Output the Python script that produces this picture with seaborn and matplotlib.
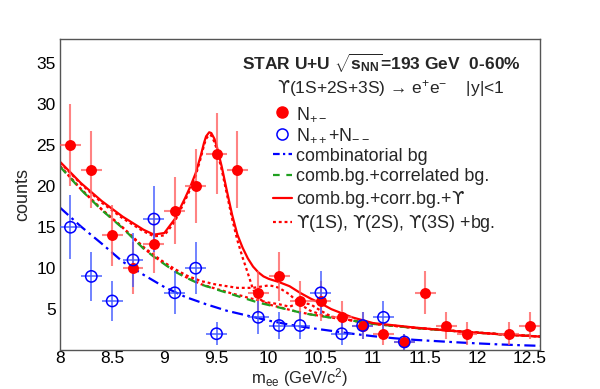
import numpy as np
import pandas as pd
import seaborn as sns
import matplotlib
matplotlib.use("Agg")
import matplotlib.pyplot as plt
from matplotlib.lines import Line2D
from matplotlib.ticker import MultipleLocator

# ---------------- data ----------------
x_pm = [8.1, 8.3, 8.5, 8.7, 8.9, 9.1, 9.3, 9.5, 9.7, 9.9, 10.1, 10.3, 10.5,
        10.7, 10.9, 11.1, 11.3, 11.5, 11.7, 11.9, 12.3, 12.5]
n_pm = [25, 22, 14, 10, 13, 17, 20, 24, 22, 7, 9, 6, 6, 4, 3, 2, 1, 7, 3, 2, 2, 3]
err_pm = [5.0, 4.7, 3.7, 3.2, 3.6, 4.1, 4.5, 4.9, 4.7, 2.6, 3.0, 2.4, 2.4, 2.0,
          1.7, 1.4, 1.0, 2.6, 1.7, 1.4, 1.4, 1.7]

x_ls = [8.1, 8.3, 8.5, 8.7, 8.9, 9.1, 9.3, 9.5, 9.9, 10.1, 10.3, 10.5, 10.7,
        10.9, 11.1, 11.3]
n_ls = [15, 9, 6, 11, 16, 7, 10, 2, 4, 3, 3, 7, 2, 3, 4, 1]
err_ls = [3.9, 3.0, 2.4, 3.3, 4.0, 2.6, 3.2, 1.4, 2.0, 1.7, 1.7, 2.6, 1.4, 1.7,
          2.0, 1.0]
bin_half = [0.1] * len(x_pm)
bin_half_ls = [0.1] * len(x_ls)

# combinatorial background curve
x_comb = [8.0, 8.2, 8.4, 8.6, 8.8, 9.0, 9.2, 9.4, 9.6, 9.8, 10.0, 10.2, 10.4,
          10.6, 10.8, 11.0, 11.2, 11.4, 11.6, 11.8, 12.0, 12.2, 12.4, 12.6]
y_comb = [17.4, 15.1, 13.0, 10.8, 9.2, 7.7, 6.5, 5.6, 4.8, 4.2, 3.6, 3.1, 2.7,
          2.35, 2.0, 1.7, 1.45, 1.25, 1.1, 0.95, 0.82, 0.7, 0.6, 0.52]

# common grid for the other curves
x_fit = [8.0, 8.2, 8.4, 8.6, 8.8, 8.9, 9.0, 9.1, 9.2, 9.25, 9.3, 9.35, 9.38,
         9.4, 9.43, 9.45, 9.48, 9.5, 9.55, 9.6, 9.65, 9.7, 9.75, 9.8, 9.85,
         9.9, 9.95, 10.0, 10.05, 10.1, 10.2, 10.3, 10.4, 10.5, 10.6, 10.8,
         11.0, 11.4, 11.8, 12.2, 12.6]
y_corr = [22.4, 19.6, 17.1, 14.9, 12.4, 11.4, 10.5, 9.6, 8.9, 8.6, 8.3, 8.0,
          7.9, 7.8, 7.7, 7.6, 7.5, 7.4, 7.2, 7.0, 6.8, 6.6, 6.4, 6.2, 6.0,
          5.8, 5.65, 5.5, 5.35, 5.2, 4.9, 4.6, 4.35, 4.15, 3.95, 3.6, 3.2,
          2.7, 2.3, 1.95, 1.65]
y_total = [23.0, 20.4, 18.2, 16.3, 14.7, 14.1, 14.3, 16.0, 18.6, 20.0, 21.6,
           23.8, 25.3, 26.1, 26.6, 26.5, 25.8, 25.0, 22.4, 19.4, 16.5, 14.1,
           12.5, 11.2, 10.2, 9.5, 9.0, 8.7, 8.5, 8.3, 7.8, 7.0, 6.3, 5.7, 5.0,
           4.0, 3.3, 2.75, 2.3, 1.95, 1.65]
y_1s = [22.9, 20.3, 18.0, 16.1, 14.5, 13.9, 14.0, 15.7, 18.3, 19.7, 21.3,
        23.5, 25.0, 25.8, 26.3, 26.2, 25.4, 24.6, 22.0, 19.0, 16.0, 13.4,
        11.3, 9.4, 7.4, 6.4, 5.9, 5.6, 5.4, 5.25, 4.92, 4.62, 4.37, 4.17,
        3.97, 3.61, 3.21, 2.71, 2.31, 1.96, 1.66]
y_2s = [22.5, 19.7, 17.2, 15.0, 12.6, 11.6, 10.7, 9.9, 9.2, 8.9, 8.7, 8.4,
        8.35, 8.3, 8.2, 8.1, 8.05, 8.0, 7.9, 7.8, 7.7, 7.6, 7.6, 7.6, 7.6,
        7.7, 7.8, 7.9, 7.8, 7.6, 6.8, 5.6, 4.8, 4.35, 4.05, 3.62, 3.22, 2.72,
        2.32, 1.96, 1.66]
y_3s = [22.45, 19.65, 17.15, 14.95, 12.45, 11.45, 10.55, 9.65, 8.95, 8.65,
        8.35, 8.05, 7.95, 7.85, 7.75, 7.65, 7.55, 7.45, 7.3, 7.1, 6.9, 6.75,
        6.6, 6.4, 6.25, 6.1, 5.95, 5.8, 5.7, 5.6, 5.3, 5.8, 5.6, 4.8, 4.1,
        3.62, 3.22, 2.72, 2.32, 1.96, 1.66]

x_ticks = [8, 8.5, 9, 9.5, 10, 10.5, 11, 11.5, 12, 12.5]
x_tick_labels = ["8", "8.5", "9", "9.5", "10", "10.5", "11", "11.5", "12", "12.5"]
y_ticks = [5, 10, 15, 20, 25, 30, 35]

# ---------------- style ----------------
sns.set_theme(style="white")
plt.rcParams["font.family"] = ["Liberation Sans", "DejaVu Sans"]
plt.rcParams["mathtext.fontset"] = "custom"
plt.rcParams["mathtext.rm"] = "Liberation Sans"
plt.rcParams["mathtext.it"] = "Liberation Sans:italic"
plt.rcParams["mathtext.bf"] = "Liberation Sans:bold"
plt.rcParams["mathtext.cal"] = "DejaVu Sans"
plt.rcParams["mathtext.default"] = "regular"

UPS = r"$\mathcal{ϒ}$"

RED = "#ff0000"
BLUE = "#0000ff"
GREEN = "#1fa01f"
FRAME = "#555555"

fig = plt.figure(figsize=(6.0, 3.89), dpi=100)
ax = fig.add_axes([0.1, 0.1, 0.8, 0.8])

df_comb = pd.DataFrame({"m": x_comb, "c": y_comb})
df_fit = pd.DataFrame({"m": x_fit, "corr": y_corr, "tot": y_total,
                       "s1": y_1s, "s2": y_2s, "s3": y_3s})

lw = 1.6
sns.lineplot(data=df_comb, x="m", y="c", ax=ax, color=BLUE, lw=lw,
             linestyle=(0, (5, 2, 1.2, 2)), sort=False)
for col in ["s3", "s2", "s1"]:
    sns.lineplot(data=df_fit, x="m", y=col, ax=ax, color=RED, lw=lw,
                 linestyle=(0, (1.3, 1.3)), sort=False)
sns.lineplot(data=df_fit, x="m", y="corr", ax=ax, color=GREEN, lw=lw,
             linestyle=(0, (4, 3)), sort=False)
sns.lineplot(data=df_fit, x="m", y="tot", ax=ax, color=RED, lw=lw, sort=False)

# error bars
ax.errorbar(x_pm, n_pm, yerr=err_pm, xerr=bin_half, fmt="none",
            ecolor=(1.0, 0.35, 0.35, 0.75), elinewidth=1.5, capsize=0, zorder=4)
ax.errorbar(x_ls, n_ls, yerr=err_ls, xerr=bin_half_ls, fmt="none",
            ecolor=(0.25, 0.35, 1.0, 0.8), elinewidth=1.3, capsize=0, zorder=5)

df_pm = pd.DataFrame({"m": x_pm, "n": n_pm})
df_ls = pd.DataFrame({"m": x_ls, "n": n_ls})
sns.scatterplot(data=df_pm, x="m", y="n", ax=ax, color=RED, s=62,
                edgecolor=RED, linewidth=0, zorder=6)
sns.scatterplot(data=df_ls, x="m", y="n", ax=ax, s=66, facecolor="none",
                edgecolor=BLUE, linewidth=1.1, zorder=7)

# axes
ax.set_xlim(8.0, 12.6)
ax.set_ylim(0, 38)
ax.set_xticks(x_ticks)
ax.set_xticklabels(x_tick_labels)
ax.set_yticks(y_ticks)
ax.xaxis.set_minor_locator(MultipleLocator(0.1))
ax.yaxis.set_minor_locator(MultipleLocator(1))
ax.tick_params(axis="both", which="major", direction="in", length=10,
               width=1, color=FRAME, labelsize=12.5, pad=1, labelcolor="black")
ax.tick_params(axis="both", which="minor", direction="in", length=5,
               width=1, color=FRAME)
ax.tick_params(axis="y", which="major", length=14, pad=3)
ax.tick_params(axis="y", which="minor", length=7)
ax.tick_params(top=False, right=False, which="both")
for sp in ax.spines.values():
    sp.set_color(FRAME)
    sp.set_linewidth(1)
ax.set_xlabel(r"m$_{ee}$ (GeV/c$^{2}$)", fontsize=12, va="bottom")
ax.xaxis.set_label_coords(0.5, -0.1245)
ax.set_ylabel("counts", fontsize=13, labelpad=4)

# headers
ax.text(0.67, 0.92, r"STAR U+U $\sqrt{s_{NN}}$=193 GeV  0-60%",
        transform=ax.transAxes, ha="center", va="center", fontsize=12.5,
        fontweight="bold")
ax.text(0.69, 0.84, UPS + "(1S+2S+3S) → e$^{+}$e$^{-}$    |y|<1",
        transform=ax.transAxes, ha="center", va="center", fontsize=12.5)

handles = [
    Line2D([], [], color=RED, marker="o", linestyle="none", markersize=8),
    Line2D([], [], color=BLUE, marker="o", markerfacecolor="none",
           linestyle="none", markersize=8, markeredgewidth=1.1),
    Line2D([], [], color=BLUE, lw=lw, linestyle=(0, (3, 1.5, 1, 1.5))),
    Line2D([], [], color=GREEN, lw=lw, linestyle=(0, (3, 3))),
    Line2D([], [], color=RED, lw=lw),
    Line2D([], [], color=RED, lw=lw, linestyle=(0, (1.3, 1.3))),
]
labels = [r"N$_{+-}$", r"N$_{++}$+N$_{--}$", "combinatorial bg",
          "comb.bg.+correlated bg.", "comb.bg.+corr.bg.+" + UPS,
          UPS + "(1S), " + UPS + "(2S), " + UPS + "(3S) +bg."]
ax.legend(handles, labels, loc="upper left", bbox_to_anchor=(0.443, 0.789),
          frameon=False, fontsize=12.9, borderpad=0, borderaxespad=0,
          handlelength=1.07, handletextpad=0.22, labelspacing=0.2)

fig.savefig("out.png", dpi=100)
